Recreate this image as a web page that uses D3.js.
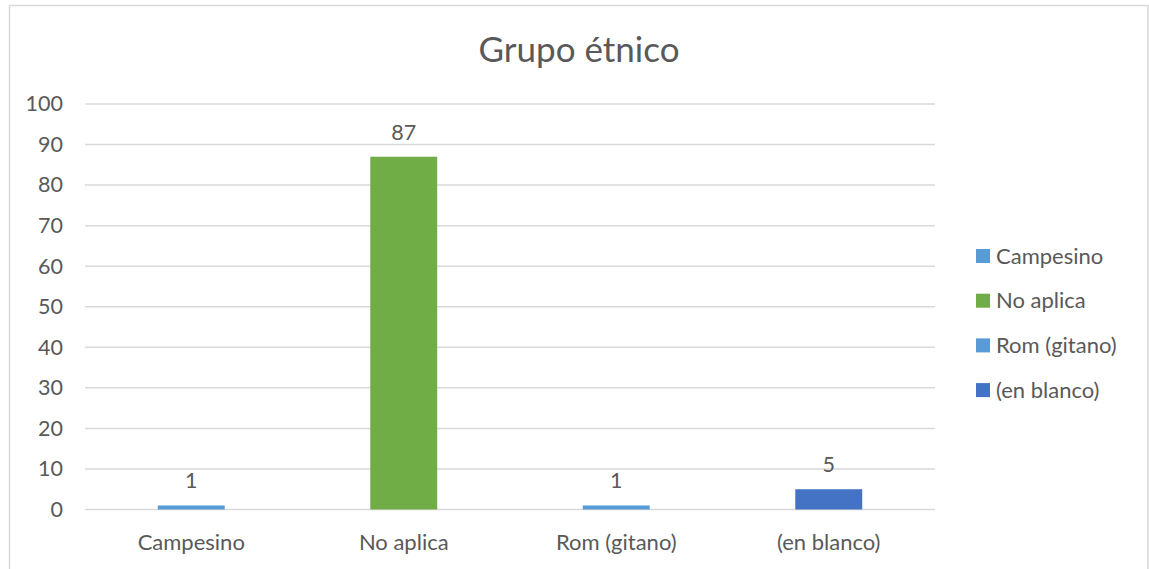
<!DOCTYPE html>
<html>
<head>
<meta charset="utf-8">
<script src="https://cdn.jsdelivr.net/npm/d3@7"></script>
<style>
  body { margin: 0; background: #fff; }
  text { font-family: Lato, "Open Sans", sans-serif; fill: #595959; }
</style>
</head>
<body>
<script>
'use strict';

// chart data
let categories = ["Campesino", "No aplica", "Rom (gitano)", "(en blanco)"];
let values = [1, 87, 1, 5];
let colors = ["#5B9BD5", "#70AD47", "#5B9BD5", "#4472C4"];
let yTicks = [0, 10, 20, 30, 40, 50, 60, 70, 80, 90, 100];
let title = "Grupo étnico";

(function() {
  let svg = d3.select('body')
    .append('svg')
    .attr('width', 1149)
    .attr('height', 569);

  // outer chart border
  svg.append('rect')
    .attr('x', 9.5)
    .attr('y', 5.5)
    .attr('width', 1138.5)
    .attr('height', 600)
    .attr('fill', 'none')
    .attr('stroke', '#d9d9d9')
    .attr('stroke-width', 1.5);

  let plot = {left: 85, right: 935, top: 104, bottom: 509.5};

  let xScale = d3.scaleBand()
    .domain(categories)
    .range([plot.left, plot.right])
    .paddingInner(0.685)
    .paddingOuter(0.3425);

  let yScale = d3.scaleLinear()
    .domain([0, 100])
    .range([plot.bottom, plot.top]);

  // gridlines
  svg.append('g')
    .selectAll('line')
    .data(yTicks)
    .enter()
    .append('line')
    .attr('x1', plot.left)
    .attr('x2', plot.right)
    .attr('y1', (d) => yScale(d))
    .attr('y2', (d) => yScale(d))
    .attr('stroke', '#d9d9d9')
    .attr('stroke-width', 1.5);

  // y axis labels, no domain line
  let yAxis = d3.axisLeft(yScale).tickValues(yTicks).tickSize(0).tickPadding(0);
  let yg = svg.append('g')
    .attr('transform', 'translate(63, 0)')
    .call(yAxis);
  yg.select('.domain').remove();
  yg.selectAll('text')
    .attr('fill', '#595959')
    .style('font-size', '21.5px')
    .style('font-family', 'Lato, sans-serif');

  // x axis labels
  let xAxis = d3.axisBottom(xScale).tickSize(0).tickPadding(0);
  let xg = svg.append('g')
    .attr('transform', 'translate(0, 532)')
    .call(xAxis);
  xg.select('.domain').remove();
  xg.selectAll('text')
    .attr('fill', '#595959')
    .attr('dy', '0.8em')
    .style('font-size', '22px')
    .style('font-family', 'Lato, sans-serif');

  // bars
  svg.selectAll('.bar')
    .data(values)
    .enter()
    .append('rect')
    .attr('class', 'bar')
    .attr('x', (d, i) => xScale(categories[i]))
    .attr('width', xScale.bandwidth())
    .attr('y', (d) => yScale(d))
    .attr('height', (d) => yScale(0) - yScale(d))
    .attr('fill', (d, i) => colors[i]);

  // value labels
  svg.selectAll('.val')
    .data(values)
    .enter()
    .append('text')
    .attr('class', 'val')
    .attr('x', (d, i) => xScale(categories[i]) + xScale.bandwidth() / 2)
    .attr('y', (d) => yScale(d) - 17)
    .attr('text-anchor', 'middle')
    .style('font-size', '21.5px')
    .text((d) => d);

  // title
  svg.append('text')
    .attr('x', 579)
    .attr('y', 62)
    .attr('text-anchor', 'middle')
    .style('font-size', '35px')
    .text(title);

  // legend
  let legend = svg.selectAll('.legend')
    .data(categories)
    .enter()
    .append('g')
    .attr('class', 'legend')
    .attr('transform', (d, i) => 'translate(976, ' + (249 + i * 44.7) + ')');

  legend.append('rect')
    .attr('width', 14)
    .attr('height', 14)
    .attr('fill', (d, i) => colors[i]);

  legend.append('text')
    .attr('x', 20)
    .attr('y', 14.5)
    .style('font-size', '22px')
    .text((d) => d);
})();
</script>
</body>
</html>
